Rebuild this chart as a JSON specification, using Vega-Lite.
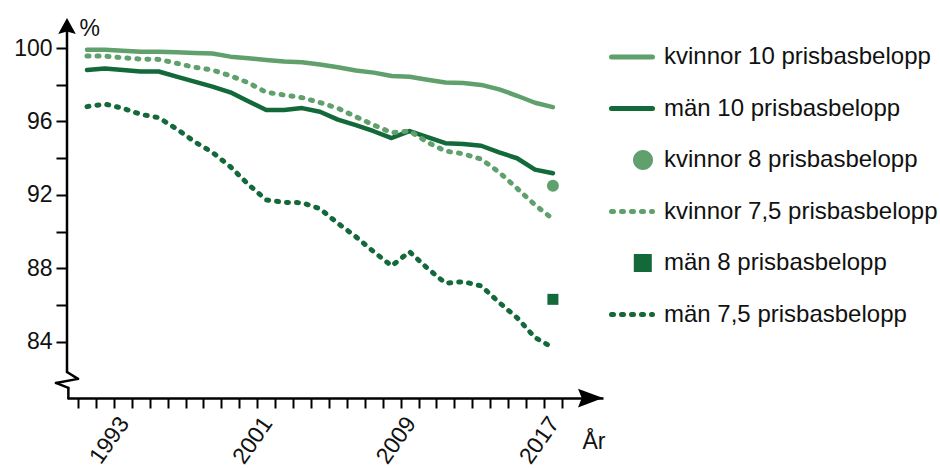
{
  "$schema": "https://vega.github.io/schema/vega-lite/v6.json",
  "width": 536,
  "height": 380,
  "autosize": {"type": "none"},
  "padding": {"left": 67, "top": 18, "right": 337, "bottom": 70},
  "background": "white",
  "config": {
    "view": {"stroke": null},
    "font": "Liberation Sans",
    "axis": {"labelColor": "#111", "titleColor": "#111", "labelFont": "Liberation Sans", "titleFont": "Liberation Sans"}
  },
  "resolve": {"axis": {"x": "independent", "y": "independent"}},
  "data": {"values": [
    {"year": 1991, "series": "kvinnor 10 prisbasbelopp", "value": 99.9},
    {"year": 1992, "series": "kvinnor 10 prisbasbelopp", "value": 99.9},
    {"year": 1993, "series": "kvinnor 10 prisbasbelopp", "value": 99.85},
    {"year": 1994, "series": "kvinnor 10 prisbasbelopp", "value": 99.8},
    {"year": 1995, "series": "kvinnor 10 prisbasbelopp", "value": 99.8},
    {"year": 1996, "series": "kvinnor 10 prisbasbelopp", "value": 99.77},
    {"year": 1997, "series": "kvinnor 10 prisbasbelopp", "value": 99.73},
    {"year": 1998, "series": "kvinnor 10 prisbasbelopp", "value": 99.7},
    {"year": 1999, "series": "kvinnor 10 prisbasbelopp", "value": 99.53},
    {"year": 2000, "series": "kvinnor 10 prisbasbelopp", "value": 99.44},
    {"year": 2001, "series": "kvinnor 10 prisbasbelopp", "value": 99.35},
    {"year": 2002, "series": "kvinnor 10 prisbasbelopp", "value": 99.26},
    {"year": 2003, "series": "kvinnor 10 prisbasbelopp", "value": 99.22},
    {"year": 2004, "series": "kvinnor 10 prisbasbelopp", "value": 99.1},
    {"year": 2005, "series": "kvinnor 10 prisbasbelopp", "value": 98.95},
    {"year": 2006, "series": "kvinnor 10 prisbasbelopp", "value": 98.78},
    {"year": 2007, "series": "kvinnor 10 prisbasbelopp", "value": 98.66},
    {"year": 2008, "series": "kvinnor 10 prisbasbelopp", "value": 98.48},
    {"year": 2009, "series": "kvinnor 10 prisbasbelopp", "value": 98.44},
    {"year": 2010, "series": "kvinnor 10 prisbasbelopp", "value": 98.27},
    {"year": 2011, "series": "kvinnor 10 prisbasbelopp", "value": 98.12},
    {"year": 2012, "series": "kvinnor 10 prisbasbelopp", "value": 98.1},
    {"year": 2013, "series": "kvinnor 10 prisbasbelopp", "value": 97.99},
    {"year": 2014, "series": "kvinnor 10 prisbasbelopp", "value": 97.75},
    {"year": 2015, "series": "kvinnor 10 prisbasbelopp", "value": 97.4},
    {"year": 2016, "series": "kvinnor 10 prisbasbelopp", "value": 97.02},
    {"year": 2017, "series": "kvinnor 10 prisbasbelopp", "value": 96.78},
    {"year": 1991, "series": "män 10 prisbasbelopp", "value": 98.8},
    {"year": 1992, "series": "män 10 prisbasbelopp", "value": 98.88},
    {"year": 1993, "series": "män 10 prisbasbelopp", "value": 98.8},
    {"year": 1994, "series": "män 10 prisbasbelopp", "value": 98.72},
    {"year": 1995, "series": "män 10 prisbasbelopp", "value": 98.72},
    {"year": 1996, "series": "män 10 prisbasbelopp", "value": 98.44},
    {"year": 1997, "series": "män 10 prisbasbelopp", "value": 98.17},
    {"year": 1998, "series": "män 10 prisbasbelopp", "value": 97.9},
    {"year": 1999, "series": "män 10 prisbasbelopp", "value": 97.59},
    {"year": 2000, "series": "män 10 prisbasbelopp", "value": 97.1},
    {"year": 2001, "series": "män 10 prisbasbelopp", "value": 96.63},
    {"year": 2002, "series": "män 10 prisbasbelopp", "value": 96.63},
    {"year": 2003, "series": "män 10 prisbasbelopp", "value": 96.73},
    {"year": 2004, "series": "män 10 prisbasbelopp", "value": 96.53},
    {"year": 2005, "series": "män 10 prisbasbelopp", "value": 96.1},
    {"year": 2006, "series": "män 10 prisbasbelopp", "value": 95.8},
    {"year": 2007, "series": "män 10 prisbasbelopp", "value": 95.47},
    {"year": 2008, "series": "män 10 prisbasbelopp", "value": 95.1},
    {"year": 2009, "series": "män 10 prisbasbelopp", "value": 95.48},
    {"year": 2010, "series": "män 10 prisbasbelopp", "value": 95.15},
    {"year": 2011, "series": "män 10 prisbasbelopp", "value": 94.82},
    {"year": 2012, "series": "män 10 prisbasbelopp", "value": 94.78},
    {"year": 2013, "series": "män 10 prisbasbelopp", "value": 94.68},
    {"year": 2014, "series": "män 10 prisbasbelopp", "value": 94.32},
    {"year": 2015, "series": "män 10 prisbasbelopp", "value": 94.0},
    {"year": 2016, "series": "män 10 prisbasbelopp", "value": 93.38},
    {"year": 2017, "series": "män 10 prisbasbelopp", "value": 93.18},
    {"year": 1991, "series": "kvinnor 7,5 prisbasbelopp", "value": 99.56},
    {"year": 1992, "series": "kvinnor 7,5 prisbasbelopp", "value": 99.56},
    {"year": 1993, "series": "kvinnor 7,5 prisbasbelopp", "value": 99.47},
    {"year": 1994, "series": "kvinnor 7,5 prisbasbelopp", "value": 99.4},
    {"year": 1995, "series": "kvinnor 7,5 prisbasbelopp", "value": 99.38},
    {"year": 1996, "series": "kvinnor 7,5 prisbasbelopp", "value": 99.17},
    {"year": 1997, "series": "kvinnor 7,5 prisbasbelopp", "value": 98.95},
    {"year": 1998, "series": "kvinnor 7,5 prisbasbelopp", "value": 98.8},
    {"year": 1999, "series": "kvinnor 7,5 prisbasbelopp", "value": 98.49},
    {"year": 2000, "series": "kvinnor 7,5 prisbasbelopp", "value": 98.11},
    {"year": 2001, "series": "kvinnor 7,5 prisbasbelopp", "value": 97.59},
    {"year": 2002, "series": "kvinnor 7,5 prisbasbelopp", "value": 97.44},
    {"year": 2003, "series": "kvinnor 7,5 prisbasbelopp", "value": 97.3},
    {"year": 2004, "series": "kvinnor 7,5 prisbasbelopp", "value": 97.03},
    {"year": 2005, "series": "kvinnor 7,5 prisbasbelopp", "value": 96.72},
    {"year": 2006, "series": "kvinnor 7,5 prisbasbelopp", "value": 96.26},
    {"year": 2007, "series": "kvinnor 7,5 prisbasbelopp", "value": 95.81},
    {"year": 2008, "series": "kvinnor 7,5 prisbasbelopp", "value": 95.39},
    {"year": 2009, "series": "kvinnor 7,5 prisbasbelopp", "value": 95.48},
    {"year": 2010, "series": "kvinnor 7,5 prisbasbelopp", "value": 94.87},
    {"year": 2011, "series": "kvinnor 7,5 prisbasbelopp", "value": 94.39},
    {"year": 2012, "series": "kvinnor 7,5 prisbasbelopp", "value": 94.24},
    {"year": 2013, "series": "kvinnor 7,5 prisbasbelopp", "value": 93.95},
    {"year": 2014, "series": "kvinnor 7,5 prisbasbelopp", "value": 93.24},
    {"year": 2015, "series": "kvinnor 7,5 prisbasbelopp", "value": 92.36},
    {"year": 2016, "series": "kvinnor 7,5 prisbasbelopp", "value": 91.46},
    {"year": 2017, "series": "kvinnor 7,5 prisbasbelopp", "value": 90.69},
    {"year": 1991, "series": "män 7,5 prisbasbelopp", "value": 96.81},
    {"year": 1992, "series": "män 7,5 prisbasbelopp", "value": 96.95},
    {"year": 1993, "series": "män 7,5 prisbasbelopp", "value": 96.72},
    {"year": 1994, "series": "män 7,5 prisbasbelopp", "value": 96.39},
    {"year": 1995, "series": "män 7,5 prisbasbelopp", "value": 96.21},
    {"year": 1996, "series": "män 7,5 prisbasbelopp", "value": 95.6},
    {"year": 1997, "series": "män 7,5 prisbasbelopp", "value": 94.9},
    {"year": 1998, "series": "män 7,5 prisbasbelopp", "value": 94.32},
    {"year": 1999, "series": "män 7,5 prisbasbelopp", "value": 93.54},
    {"year": 2000, "series": "män 7,5 prisbasbelopp", "value": 92.58},
    {"year": 2001, "series": "män 7,5 prisbasbelopp", "value": 91.73},
    {"year": 2002, "series": "män 7,5 prisbasbelopp", "value": 91.6},
    {"year": 2003, "series": "män 7,5 prisbasbelopp", "value": 91.58},
    {"year": 2004, "series": "män 7,5 prisbasbelopp", "value": 91.25},
    {"year": 2005, "series": "män 7,5 prisbasbelopp", "value": 90.46},
    {"year": 2006, "series": "män 7,5 prisbasbelopp", "value": 89.73},
    {"year": 2007, "series": "män 7,5 prisbasbelopp", "value": 88.91},
    {"year": 2008, "series": "män 7,5 prisbasbelopp", "value": 88.14},
    {"year": 2009, "series": "män 7,5 prisbasbelopp", "value": 88.91},
    {"year": 2010, "series": "män 7,5 prisbasbelopp", "value": 88.01},
    {"year": 2011, "series": "män 7,5 prisbasbelopp", "value": 87.2},
    {"year": 2012, "series": "män 7,5 prisbasbelopp", "value": 87.28},
    {"year": 2013, "series": "män 7,5 prisbasbelopp", "value": 87.05},
    {"year": 2014, "series": "män 7,5 prisbasbelopp", "value": 86.15},
    {"year": 2015, "series": "män 7,5 prisbasbelopp", "value": 85.32},
    {"year": 2016, "series": "män 7,5 prisbasbelopp", "value": 84.24},
    {"year": 2017, "series": "män 7,5 prisbasbelopp", "value": 83.69},
    {"year": 2017, "series": "kvinnor 8 prisbasbelopp", "value": 92.5},
    {"year": 2017, "series": "män 8 prisbasbelopp", "value": 86.32}
  ]},
  "layer": [
    {
      "transform": [{"filter": {"field": "series", "oneOf": ["kvinnor 10 prisbasbelopp", "män 10 prisbasbelopp"]}}],
      "mark": {"type": "line", "strokeWidth": 4.5, "strokeCap": "round", "strokeJoin": "round"},
      "encoding": {
        "x": {"field": "year", "type": "quantitative",
          "scale": {"domain": [1989.884, 2019.795], "nice": false, "zero": false},
          "axis": {
            "orient": "bottom",
            "values": [1990.5, 1991.5, 1992.5, 1993.5, 1994.5, 1995.5, 1996.5, 1997.5, 1998.5, 1999.5, 2000.5, 2001.5, 2002.5, 2003.5, 2004.5, 2005.5, 2006.5, 2007.5, 2008.5, 2009.5, 2010.5, 2011.5, 2012.5, 2013.5, 2014.5, 2015.5, 2016.5, 2017.5],
            "labelExpr": "(datum.value - 1993.5) % 8 == 0 ? format(datum.value - 0.5, 'd') : ''",
            "labelAngle": -55, "labelOffset": -8, "labelPadding": 11, "labelFontSize": 23,
            "labelOverlap": false, "labelFlush": false, "labelBound": false,
            "grid": false, "domain": true, "domainColor": "#000", "domainWidth": 2.5,
            "ticks": true, "tickColor": "#000", "tickWidth": 2, "tickSize": 10,
            "title": "År", "titleX": 515, "titleY": 50, "titleAlign": "left", "titleBaseline": "alphabetic",
            "titleFontSize": 23, "titleFontWeight": "normal"
          }
        },
        "y": {"field": "value", "type": "quantitative",
          "scale": {"domain": [80.95, 101.633], "nice": false, "zero": false},
          "axis": {
            "orient": "left",
            "values": [84, 86, 88, 90, 92, 94, 96, 98, 100],
            "labelExpr": "datum.value % 4 == 0 ? datum.label : ''",
            "labelFontSize": 23, "labelPadding": 4,
            "grid": false, "domain": false,
            "ticks": true, "tickColor": "#000", "tickWidth": 2, "tickSize": 11,
            "title": "%", "titleAngle": 0, "titleX": 12, "titleY": 17, "titleAlign": "left", "titleBaseline": "alphabetic",
            "titleFontSize": 23, "titleFontWeight": "normal"
          }
        },
        "color": {"field": "series", "type": "nominal",
          "scale": {
            "domain": ["kvinnor 10 prisbasbelopp", "män 10 prisbasbelopp", "kvinnor 8 prisbasbelopp", "kvinnor 7,5 prisbasbelopp", "män 8 prisbasbelopp", "män 7,5 prisbasbelopp"],
            "range": ["#60a06c", "#13693a", "#60a06c", "#60a06c", "#13693a", "#13693a"]
          },
          "legend": {
            "orient": "none", "legendX": 553, "legendY": 27, "title": null,
            "symbolSize": 400, "symbolStrokeWidth": 5, "labelOffset": 20, "rowPadding": 27.5,
            "labelFontSize": 24, "labelFont": "Liberation Sans", "labelColor": "#111", "labelLimit": 400,
            "encode": {"symbols": {"update": {
              "shape": {"signal": "datum.value == 'kvinnor 8 prisbasbelopp' ? 'M2.1,0A1,1,0,1,1,0.1,0A1,1,0,1,1,2.1,0Z' : datum.value == 'män 8 prisbasbelopp' ? 'M0.2,-1L2.2,-1L2.2,1L0.2,1Z' : 'stroke'"},
              "size": {"signal": "datum.value == 'kvinnor 8 prisbasbelopp' ? 400 : datum.value == 'män 8 prisbasbelopp' ? 324 : 1681"},
              "fill": {"signal": "(datum.value == 'kvinnor 8 prisbasbelopp' || datum.value == 'män 8 prisbasbelopp') ? scale('color', datum.value) : 'transparent'"},
              "stroke": {"signal": "scale('color', datum.value)"},
              "strokeWidth": {"signal": "(datum.value == 'kvinnor 8 prisbasbelopp' || datum.value == 'män 8 prisbasbelopp') ? 0 : 5"},
              "strokeDash": {"signal": "(datum.value == 'kvinnor 7,5 prisbasbelopp' || datum.value == 'män 7,5 prisbasbelopp') ? [2, 8] : [1, 0]"},
              "strokeCap": {"value": "round"},
              "opacity": {"value": 1}
            }}}
          }
        }
      }
    },
    {
      "transform": [{"filter": {"field": "series", "oneOf": ["kvinnor 7,5 prisbasbelopp", "män 7,5 prisbasbelopp"]}}],
      "mark": {"type": "line", "strokeWidth": 5, "strokeCap": "round", "strokeDash": [2, 8]},
      "encoding": {
        "x": {"field": "year", "type": "quantitative", "axis": null},
        "y": {"field": "value", "type": "quantitative", "axis": null},
        "color": {"field": "series", "type": "nominal"}
      }
    },
    {
      "transform": [{"filter": {"field": "series", "equal": "kvinnor 8 prisbasbelopp"}}],
      "mark": {"type": "circle", "size": 144, "opacity": 1},
      "encoding": {
        "x": {"field": "year", "type": "quantitative", "axis": null},
        "y": {"field": "value", "type": "quantitative", "axis": null},
        "color": {"field": "series", "type": "nominal"}
      }
    },
    {
      "transform": [{"filter": {"field": "series", "equal": "män 8 prisbasbelopp"}}],
      "mark": {"type": "square", "size": 121, "opacity": 1},
      "encoding": {
        "x": {"field": "year", "type": "quantitative", "axis": null},
        "y": {"field": "value", "type": "quantitative", "axis": null},
        "color": {"field": "series", "type": "nominal"}
      }
    },
    {
      "data": {"values": [{}]},
      "mark": {"type": "rule", "color": "#000", "strokeWidth": 2.5, "strokeCap": "round"},
      "encoding": {"x": {"datum": 1989.884, "axis": null}, "y": {"datum": 101.0, "axis": null}, "y2": {"datum": 82.367}}
    },
    {
      "data": {"values": [{}]},
      "mark": {"type": "rule", "color": "#000", "strokeWidth": 2.5, "strokeCap": "round"},
      "encoding": {"x": {"datum": 1989.884, "axis": null}, "x2": {"datum": 1990.498}, "y": {"datum": 82.367, "axis": null}, "y2": {"datum": 81.99}}
    },
    {
      "data": {"values": [{}]},
      "mark": {"type": "rule", "color": "#000", "strokeWidth": 2.5, "strokeCap": "round"},
      "encoding": {"x": {"datum": 1990.498, "axis": null}, "x2": {"datum": 1989.27}, "y": {"datum": 81.99, "axis": null}, "y2": {"datum": 81.77}}
    },
    {
      "data": {"values": [{}]},
      "mark": {"type": "rule", "color": "#000", "strokeWidth": 2.5, "strokeCap": "round"},
      "encoding": {"x": {"datum": 1989.27, "axis": null}, "x2": {"datum": 1989.96}, "y": {"datum": 81.77, "axis": null}, "y2": {"datum": 81.5}}
    },
    {
      "data": {"values": [{}]},
      "mark": {"type": "rule", "color": "#000", "strokeWidth": 2.5, "strokeCap": "round"},
      "encoding": {"x": {"datum": 1989.96, "axis": null}, "y": {"datum": 81.5, "axis": null}, "y2": {"datum": 80.95}}
    },
    {
      "data": {"values": [{}]},
      "mark": {"type": "point", "shape": "M0,0L1.1,2L0,1.7L-1.1,2Z", "size": 256, "filled": true, "color": "#000", "opacity": 1, "strokeWidth": 0},
      "encoding": {"x": {"datum": 1989.884, "axis": null}, "y": {"datum": 101.633, "axis": null}}
    },
    {
      "data": {"values": [{}]},
      "mark": {"type": "point", "shape": "M0,0L-2,-0.75L-1.7,0L-2,0.75Z", "size": 625, "filled": true, "color": "#000", "opacity": 1, "strokeWidth": 0},
      "encoding": {"x": {"datum": 2019.795, "axis": null}, "y": {"datum": 80.95, "axis": null}}
    }
  ]
}
